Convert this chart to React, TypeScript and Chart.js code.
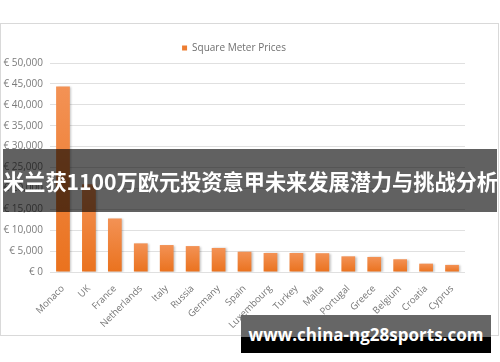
import { useEffect, useRef } from 'react';
import { Chart, registerables } from 'chart.js';

Chart.register(...registerables);

const countries = ['Monaco', 'UK', 'France', 'Netherlands', 'Italy', 'Russia', 'Germany', 'Spain', 'Luxembourg', 'Turkey', 'Malta', 'Portugal', 'Greece', 'Belgium', 'Croatia', 'Cyprus'];
const prices = [44400, 21000, 12800, 6850, 6450, 6200, 5750, 4850, 4550, 4550, 4500, 3750, 3600, 3050, 2000, 1700];
const seriesName = 'Square Meter Prices';
const yMax = 50000;
const yStep = 5000;
const headline = '米兰获1100万欧元投资意甲未来发展潜力与挑战分析';
const siteText = 'www.china-ng28sports.com';

const FONT = '"Open Sans", "Noto Sans", sans-serif';

export default function App() {
  const canvasRef = useRef<HTMLCanvasElement | null>(null);

  useEffect(() => {
    if (!canvasRef.current) return;
    const shadowPlugin = {
      id: 'barShadow',
      beforeDatasetsDraw(chart: any) {
        const c = chart.ctx;
        c.save();
        c.shadowColor = 'rgba(0,0,0,0.22)';
        c.shadowBlur = 2;
        c.shadowOffsetX = 1.5;
        c.shadowOffsetY = 0.5;
      },
      afterDatasetsDraw(chart: any) {
        chart.ctx.restore();
      },
    };
    const chart = new Chart(canvasRef.current, {
      type: 'bar',
      data: {
        labels: countries,
        datasets: [
          {
            label: seriesName,
            data: prices,
            backgroundColor: (ctx: any) => {
              const ch = ctx.chart;
              if (!ch.chartArea || ctx.raw === undefined) return '#ED7D31';
              const ys = ch.scales.y;
              const top = ys.getPixelForValue(ctx.raw);
              const bottom = ys.getPixelForValue(0);
              const g = ch.ctx.createLinearGradient(0, top, 0, bottom);
              g.addColorStop(0, '#F39255');
              g.addColorStop(1, '#EA721E');
              return g;
            },
            borderWidth: 0,
            categoryPercentage: 1,
            barPercentage: 0.53,
          },
        ],
      },
      options: {
        animation: false,
        responsive: false,
        maintainAspectRatio: false,
        layout: { padding: { top: 8, right: 33, bottom: 0, left: 2 } },
        plugins: {
          tooltip: { enabled: false },
          legend: {
            display: true,
            position: 'top',
            labels: {
              color: '#707070',
              font: { family: FONT, size: 10 },
              boxWidth: 5,
              boxHeight: 5,
              padding: 11,
              generateLabels: () => [
                {
                  text: seriesName,
                  fillStyle: '#ED7D31',
                  strokeStyle: '#ED7D31',
                  lineWidth: 0,
                  hidden: false,
                  datasetIndex: 0,
                  fontColor: '#707070',
                },
              ],
            },
          },
        },
        scales: {
          x: {
            grid: { display: false },
            border: { display: false },
            ticks: {
              color: '#767676',
              font: { family: FONT, size: 9.5 },
              minRotation: 45,
              maxRotation: 45,
              autoSkip: false,
              padding: 3,
            },
            afterFit: (scale: any) => {
              scale.height = 63;
            },
          },
          y: {
            min: 0,
            max: yMax,
            grid: { color: '#e0e0e0', drawTicks: false, lineWidth: 1 },
            border: { display: false },
            ticks: {
              stepSize: yStep,
              color: '#7a7a7a',
              font: { family: FONT, size: 10 },
              padding: 7,
              callback: (v: any) => '€ ' + Number(v).toLocaleString('en-US'),
            },
            afterFit: (scale: any) => {
              scale.width = 47;
            },
          },
        },
      },
      plugins: [shadowPlugin],
    });
    return () => chart.destroy();
  }, []);

  return (
    <div style={{ position: 'fixed', left: 0, top: 0, width: 500, height: 362, background: '#fff', overflow: 'hidden' }}>
      <div
        style={{
          position: 'absolute',
          left: 0,
          top: 23,
          width: 499,
          height: 313,
          boxSizing: 'border-box',
          border: '1px solid #d9d9d9',
          background: '#fff',
        }}
      >
        <canvas ref={canvasRef} width={497} height={311} style={{ display: 'block', width: 497, height: 311 }} />
      </div>
      <div
        style={{
          position: 'absolute',
          left: 3,
          top: 149,
          width: 494,
          height: 63,
          background: 'rgba(0,0,0,0.62)',
          display: 'flex',
          alignItems: 'center',
          whiteSpace: 'nowrap',
          overflow: 'hidden',
        }}
      >
        <span
          style={{
            color: '#fff',
            fontFamily: '"Noto Sans CJK SC", sans-serif',
            fontWeight: 700,
            fontSize: 21.2,
            letterSpacing: 0,
          }}
        >
          {headline}
        </span>
      </div>
      <div
        style={{
          position: 'absolute',
          left: 241,
          top: 315,
          width: 250,
          height: 38,
          background: 'linear-gradient(#666 0%, #666 58%, #000 58%, #000 100%)',
          display: 'flex',
          alignItems: 'center',
          justifyContent: 'center',
          whiteSpace: 'nowrap',
        }}
      >
        <span style={{ color: '#fff', fontFamily: '"Open Sans", sans-serif', fontWeight: 700, fontSize: 17 }}>{siteText}</span>
      </div>
    </div>
  );
}
